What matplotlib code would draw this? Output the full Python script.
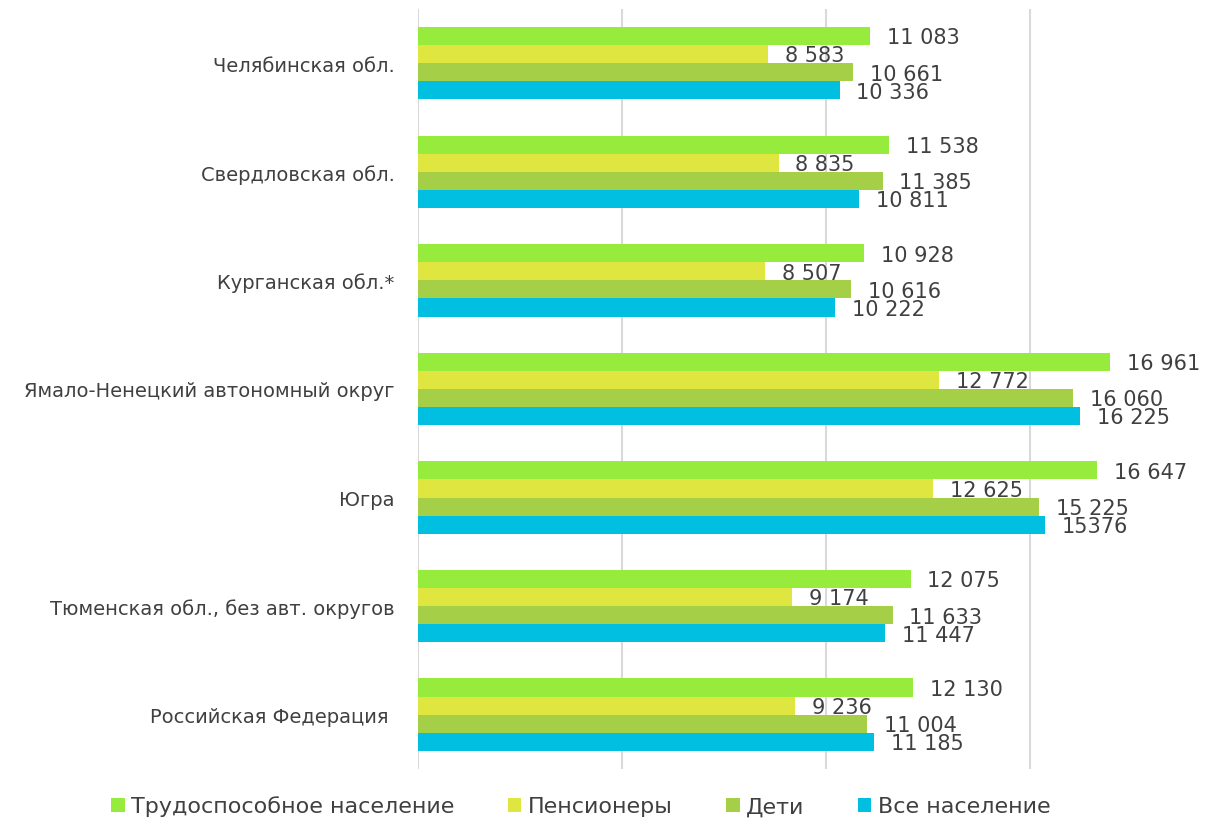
import matplotlib
import numpy as np

matplotlib.use('Agg')

import matplotlib.pyplot as plt

regions = ['Челябинская обл.', 'Свердловская обл.', 'Курганская обл.*',
           'Ямало-Ненецкий автономный округ', 'Югра',
           'Тюменская обл., без авт. округов', 'Российская Федерация ']
series_names = ['Трудоспособное население', 'Пенсионеры', 'Дети', 'Все население']
working = [11083, 11538, 10928, 16961, 16647, 12075, 12130]
pensioners = [8583, 8835, 8507, 12772, 12625, 9174, 9236]
children = [10661, 11385, 10616, 16060, 15225, 11633, 11004]
all_people = [10336, 10811, 10222, 16225, 15376, 11447, 11185]
# подпись "15376" на графике без пробела
no_space = {(3, 4)}

colors = ['#96EB3C', '#E0E640', '#A5CF46', '#00BFE0']
text_color = '#404040'


def fmt(v, key):
    if key in no_space:
        return str(v)
    return f'{v:,}'.replace(',', ' ')


def plot_chart():
    plt.rcParams['font.family'] = ['DejaVu Sans']
    fig = plt.figure(figsize=(12.26, 8.2), dpi=100)
    ax = fig.add_axes([0.341, 0.061, 0.659, 0.927])

    data = [working, pensioners, children, all_people]
    y = np.arange(len(regions))
    h = 1 / 6
    for i, vals in enumerate(data):
        pos = y + (i - 1.5) * h
        ax.barh(pos, vals, height=h, color=colors[i], label=series_names[i], zorder=2)
        for j, v in enumerate(vals):
            ax.annotate(fmt(v, (i, j)), (v, pos[j]), xytext=(12, -1),
                        textcoords='offset points', va='center', ha='left',
                        fontsize=15, color=text_color)

    ax.set_ylim(-0.5, len(regions) - 0.5)
    ax.invert_yaxis()
    ax.set_xlim(0, 19800)
    ax.set_xticks([0, 5000, 10000, 15000])
    ax.set_xticklabels([])
    ax.grid(axis='x', color='#D9D9D9', linewidth=1.5, zorder=0)
    ax.set_yticks(y)
    ax.set_yticklabels(regions, fontsize=14, color=text_color)
    ax.tick_params(length=0, pad=17)
    for s in ax.spines.values():
        s.set_visible(False)

    fig.legend(loc='center', bbox_to_anchor=(581 / 1226, 1 - 807 / 820), ncol=4,
               frameon=False, fontsize=16, handlelength=0.6, handleheight=0.6,
               handletextpad=0.3, columnspacing=2.4, labelcolor=text_color)

    fig.savefig('out.png', dpi=100)


if __name__ == '__main__':
    plot_chart()
